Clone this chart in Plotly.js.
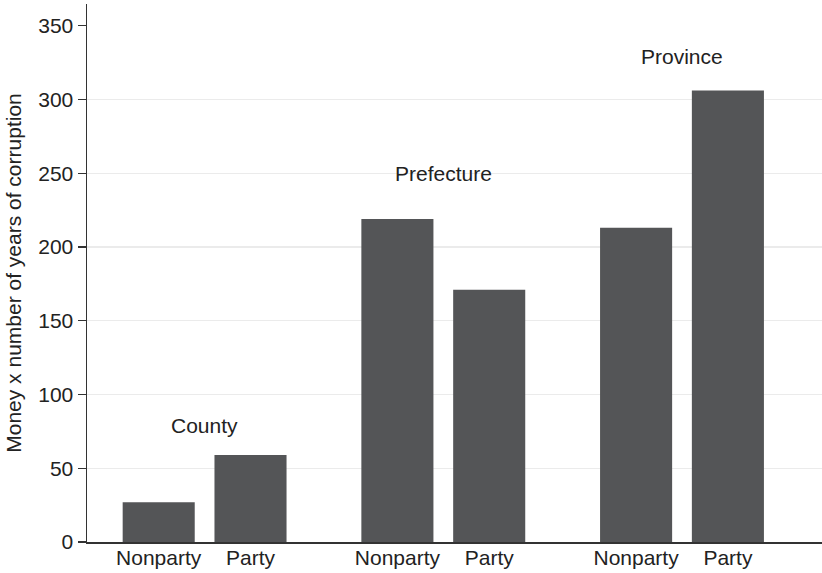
<!DOCTYPE html>
<html>
<head>
<meta charset="utf-8">
<script src="https://cdn.plot.ly/plotly-3.0.1.min.js"></script>
<style>html,body{margin:0;padding:0;background:#fff;}#chart{width:822px;height:573px;}</style>
</head>
<body>
<div id="chart"></div>
<script>
// Data
var groups = ["County", "Prefecture", "Province"];
var groupLabelY = [79, 250, 329];
var barLabels = ["Nonparty", "Party", "Nonparty", "Party", "Nonparty", "Party"];
var barPositions = [1, 2, 3.6, 4.6, 6.2, 7.2];
var barValues = [27, 59, 219, 171, 213, 306];
var yTicks = [0, 50, 100, 150, 200, 250, 300, 350];
var yGridTicks = [50, 100, 150, 200, 250, 300];
var yTitle = "Money x number of years of corruption";

var FONT = "Liberation Sans, Arial, sans-serif";
var yRange = [0, 364.7];

var annotations = groups.map(function (g, i) {
  return {
    x: (barPositions[2 * i] + barPositions[2 * i + 1]) / 2,
    y: groupLabelY[i],
    xref: "x", yref: "y",
    text: g, showarrow: false,
    font: {family: FONT, size: 21, color: "#222222"}
  };
});

var trace = {
  type: "bar",
  x: barPositions,
  y: barValues,
  width: 0.785,
  marker: {color: "#545557", line: {width: 0}},
  hoverinfo: "skip"
};

var layout = {
  width: 822, height: 573,
  margin: {l: 87, r: 0, t: 4, b: 31},
  paper_bgcolor: "#ffffff", plot_bgcolor: "#ffffff",
  showlegend: false,
  font: {family: FONT, size: 21, color: "#222222"},
  xaxis: {
    range: [0.219, 8.225],
    tickvals: barPositions, ticktext: barLabels,
    ticks: "", showgrid: false, zeroline: false,
    showline: true, linecolor: "#333333", linewidth: 1.5,
    tickfont: {family: FONT, size: 21, color: "#222222"},
    ticklabelstandoff: -4,
    fixedrange: true
  },
  yaxis: {
    range: yRange,
    tickvals: yTicks,
    ticks: "outside", ticklen: 8, tickwidth: 1.3, tickcolor: "#333333",
    showgrid: false, zeroline: false,
    showline: true, linecolor: "#333333", linewidth: 1.5,
    tickfont: {family: FONT, size: 21, color: "#222222"},
    title: {text: yTitle, standoff: 11, font: {family: FONT, size: 21, color: "#222222"}},
    fixedrange: true
  },
  yaxis2: {
    overlaying: "y", matches: "y", range: yRange,
    tickvals: yGridTicks, showticklabels: false, ticks: "",
    showgrid: true, gridcolor: "#ebebeb", gridwidth: 1.4,
    zeroline: false, showline: false, fixedrange: true
  },
  annotations: annotations
};

var gridTrace = {type: "scatter", x: [], y: [], yaxis: "y2", hoverinfo: "skip"};

Plotly.newPlot("chart", [trace, gridTrace], layout, {staticPlot: true, displayModeBar: false});
</script>
</body>
</html>
